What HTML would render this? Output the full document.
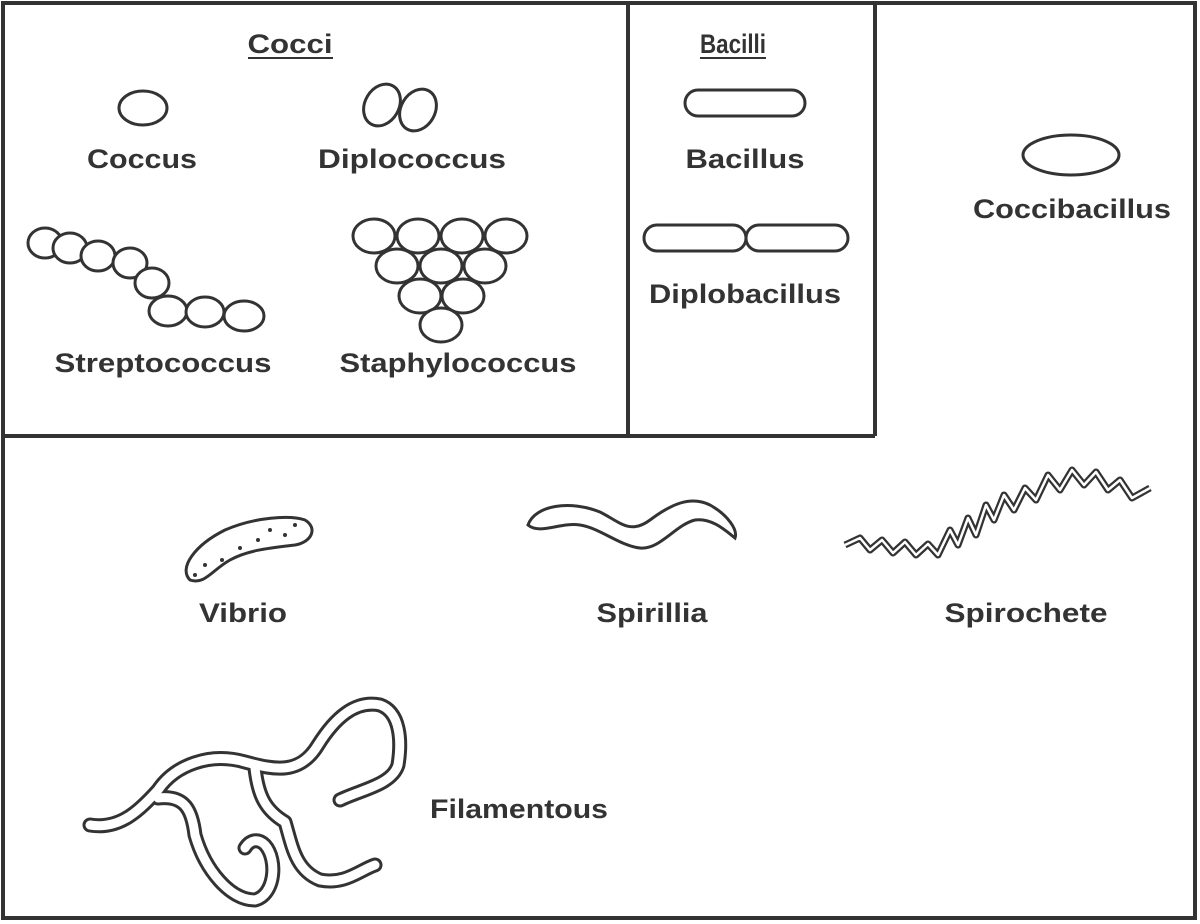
<!DOCTYPE html>
<html><head><meta charset="utf-8"><style>
html,body{margin:0;padding:0;background:#fff;}
svg{display:block;}
text{font-family:"Liberation Sans",sans-serif;font-weight:bold;font-size:27px;fill:#333;text-anchor:middle;}
</style></head><body>
<svg width="1200" height="924" viewBox="0 0 1200 924" xmlns="http://www.w3.org/2000/svg">
<rect x="0" y="0" width="1200" height="924" fill="#fff"/>
<g fill="none" stroke="#333" stroke-width="4">
<rect x="3" y="3" width="1192" height="915"/>
<line x1="3" y1="436" x2="875" y2="436"/>
<line x1="628" y1="3" x2="628" y2="436"/>
<line x1="875" y1="3" x2="875" y2="436"/>
</g>
<g fill="#fff" stroke="#333" stroke-width="3">
<ellipse cx="143" cy="108" rx="24" ry="17"/>
<ellipse cx="382" cy="105" rx="17" ry="22" transform="rotate(30 382 105)"/>
<ellipse cx="418" cy="110" rx="17" ry="22" transform="rotate(30 418 110)"/>
<ellipse cx="45" cy="243" rx="17" ry="15"/>
<ellipse cx="70" cy="248" rx="17" ry="15"/>
<ellipse cx="98" cy="256" rx="17" ry="15"/>
<ellipse cx="130" cy="263" rx="17" ry="15"/>
<ellipse cx="152" cy="283" rx="17" ry="15"/>
<ellipse cx="168" cy="311" rx="19" ry="15"/>
<ellipse cx="205" cy="312" rx="19" ry="15"/>
<ellipse cx="244" cy="316" rx="20" ry="15"/>
<ellipse cx="374" cy="236" rx="21" ry="17"/>
<ellipse cx="418" cy="236" rx="21" ry="17"/>
<ellipse cx="462" cy="236" rx="21" ry="17"/>
<ellipse cx="506" cy="236" rx="21" ry="17"/>
<ellipse cx="397" cy="266" rx="21" ry="17"/>
<ellipse cx="441" cy="266" rx="21" ry="17"/>
<ellipse cx="485" cy="266" rx="21" ry="17"/>
<ellipse cx="420" cy="296" rx="21" ry="17"/>
<ellipse cx="463" cy="296" rx="21" ry="17"/>
<ellipse cx="441" cy="325" rx="21" ry="17"/>
<rect x="685" y="90" width="120" height="26" rx="13"/>
<rect x="644" y="225" width="102" height="26" rx="13"/>
<rect x="746" y="225" width="102" height="26" rx="13"/>
<ellipse cx="1071" cy="155" rx="48" ry="20"/>
<path d="M190,580 C178,568 195,545 225,530 C255,517 290,515 305,520 C318,528 312,542 295,545 C270,548 248,550 230,560 C212,570 205,585 190,580 Z"/>
<path d="M528,525 C535,505 570,500 600,512 C620,522 630,535 650,520 C670,505 690,495 710,505 C728,515 738,530 735,538 C725,530 712,518 695,520 C675,525 660,550 640,548 C620,546 600,528 580,525 C560,522 540,535 528,525 Z"/>
</g>
<g fill="#333">
<circle cx="205" cy="565" r="2"/><circle cx="222" cy="560" r="2"/><circle cx="240" cy="548" r="2"/><circle cx="258" cy="540" r="2"/><circle cx="270" cy="530" r="2"/><circle cx="285" cy="535" r="2"/><circle cx="295" cy="525" r="2"/><circle cx="195" cy="575" r="2"/>
</g>
<path d="M845,545 L860,538 L870,550 L882,540 L893,553 L905,542 L916,555 L928,544 L938,555 L950,530 L958,545 L968,518 L976,535 L986,505 L994,520 L1004,495 L1014,510 L1025,488 L1036,500 L1048,475 L1060,490 L1072,470 L1084,485 L1096,472 L1108,490 L1120,480 L1132,498 L1150,488" fill="none" stroke="#333" stroke-width="7" stroke-linejoin="round"/>
<path d="M845,545 L860,538 L870,550 L882,540 L893,553 L905,542 L916,555 L928,544 L938,555 L950,530 L958,545 L968,518 L976,535 L986,505 L994,520 L1004,495 L1014,510 L1025,488 L1036,500 L1048,475 L1060,490 L1072,470 L1084,485 L1096,472 L1108,490 L1120,480 L1132,498 L1150,488" fill="none" stroke="#fff" stroke-width="2.5" stroke-linejoin="round"/>
<g fill="none" stroke-linecap="round" stroke-linejoin="round">
<g stroke="#333" stroke-width="15">
<path d="M90,825 C120,830 140,810 158,790 C175,765 210,752 245,762 C275,770 300,775 318,745 C335,718 355,700 380,705 C400,712 402,740 398,765 C392,785 360,790 340,800"/>
<path d="M158,798 C185,795 192,810 195,835 C205,870 230,900 255,900 C275,895 278,860 265,845 C258,838 250,840 245,848"/>
<path d="M255,768 C258,795 265,810 285,822 C292,845 295,870 320,880 C345,885 360,870 375,865"/>
</g>
<g stroke="#fff" stroke-width="9">
<path d="M90,825 C120,830 140,810 158,790 C175,765 210,752 245,762 C275,770 300,775 318,745 C335,718 355,700 380,705 C400,712 402,740 398,765 C392,785 360,790 340,800"/>
<path d="M158,798 C185,795 192,810 195,835 C205,870 230,900 255,900 C275,895 278,860 265,845 C258,838 250,840 245,848"/>
<path d="M255,768 C258,795 265,810 285,822 C292,845 295,870 320,880 C345,885 360,870 375,865"/>
</g>
</g>
<text x="290" y="53" textLength="85" lengthAdjust="spacingAndGlyphs">Cocci</text>
<line x1="248" y1="58" x2="333" y2="58" stroke="#333" stroke-width="2"/>
<text x="733" y="53" textLength="66" lengthAdjust="spacingAndGlyphs">Bacilli</text>
<line x1="700" y1="58" x2="766" y2="58" stroke="#333" stroke-width="2"/>
<text x="142" y="168" textLength="110" lengthAdjust="spacingAndGlyphs">Coccus</text>
<text x="412" y="168" textLength="188" lengthAdjust="spacingAndGlyphs">Diplococcus</text>
<text x="745" y="168" textLength="119" lengthAdjust="spacingAndGlyphs">Bacillus</text>
<text x="1072" y="218" textLength="198" lengthAdjust="spacingAndGlyphs">Coccibacillus</text>
<text x="745" y="303" textLength="192" lengthAdjust="spacingAndGlyphs">Diplobacillus</text>
<text x="163" y="372" textLength="217" lengthAdjust="spacingAndGlyphs">Streptococcus</text>
<text x="458" y="372" textLength="237" lengthAdjust="spacingAndGlyphs">Staphylococcus</text>
<text x="243" y="622" textLength="88" lengthAdjust="spacingAndGlyphs">Vibrio</text>
<text x="652" y="622" textLength="111" lengthAdjust="spacingAndGlyphs">Spirillia</text>
<text x="1026" y="622" textLength="163" lengthAdjust="spacingAndGlyphs">Spirochete</text>
<text x="519" y="818" textLength="178" lengthAdjust="spacingAndGlyphs">Filamentous</text>
</svg>
</body></html>
